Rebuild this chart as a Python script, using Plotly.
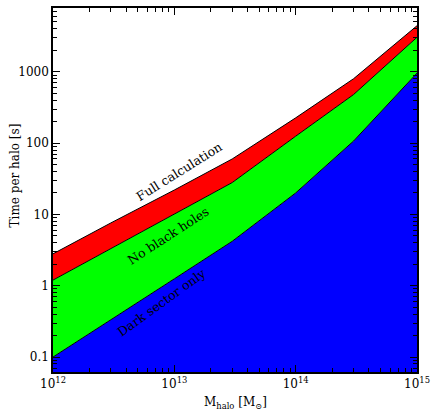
import plotly.graph_objects as go

# halo mass [Msun] and time per halo [s] for each run
m_halo = [1e12, 3e12, 1e13, 3e13, 1e14, 3e14, 1e15]
t_dark = [0.1, 0.33, 1.25, 4.2, 20, 107, 960]
t_nobh = [1.2, 3.3, 10, 28, 125, 480, 3050]
t_full = [2.8, 7.6, 22, 60, 226, 800, 4430]

x_ticks = [1e12, 1e13, 1e14, 1e15]
x_ticktext = ["10<sup>12</sup>", "10<sup>13</sup>", "10<sup>14</sup>", "10<sup>15</sup>"]
y_ticks = [0.1, 1, 10, 100, 1000]
y_ticktext = ["0.1", "1", "10", "100", "1000"]

# minor ticks: 2..9 in each decade
x_minor = [d * k for d in [1e12, 1e13, 1e14] for k in range(2, 10)]
y_minor = [d * k for d in [0.01, 0.1, 1, 10, 100, 1000] for k in range(2, 10)]

FONT = "DejaVu Serif"
line = {"color": "black", "width": 1}
title_font = {"family": FONT, "size": 12, "color": "black"}

fig = go.Figure()
fig.add_trace(go.Scatter(x=m_halo, y=t_dark, mode="lines", line=line,
                         fill="tozeroy", fillcolor="#0000ff", showlegend=False))
fig.add_trace(go.Scatter(x=m_halo, y=t_nobh, mode="lines", line=line,
                         fill="tonexty", fillcolor="#00ff00", showlegend=False))
fig.add_trace(go.Scatter(x=m_halo, y=t_full, mode="lines", line=line,
                         fill="tonexty", fillcolor="#ff0000", showlegend=False))

labels = [
    ("Full calculation", 13.04, 1.60, -32),
    ("No black holes", 12.95, 0.71, -33),
    ("Dark sector only", 12.895, -0.24, -36),
]
for text, lx, ly, ang in labels:
    fig.add_annotation(text=text, x=lx, y=ly, xref="x", yref="y", showarrow=False,
                       textangle=ang, font={"family": FONT, "size": 12.5, "color": "black"})

# axis titles as annotations so they can sit where the original has them
fig.add_annotation(text="M<sub>halo</sub> [M<sub>⊙</sub>]", x=0.5, y=0, xref="paper",
                   yref="paper", xanchor="center", yanchor="middle", yshift=-31,
                   showarrow=False, font=title_font)
fig.add_annotation(text="Time per halo [s]", x=0, y=0.54, xref="paper", yref="paper",
                   xanchor="center", yanchor="middle", xshift=-38, textangle=-90,
                   showarrow=False, font=title_font)

axis_common = dict(
    showline=True, linecolor="black", linewidth=1.5, mirror="ticks",
    ticks="inside", ticklen=7, tickwidth=1, tickcolor="black",
    showgrid=False, zeroline=False, automargin=False,
    tickfont={"family": FONT, "size": 12, "color": "black"},
)
fig.update_xaxes(type="log", range=[12, 15], tickvals=x_ticks, ticktext=x_ticktext,
                 minor=dict(ticks="inside", ticklen=4, tickcolor="black", tickvals=x_minor,
                            showgrid=False),
                 **axis_common)
fig.update_yaxes(type="log", range=[-1.21, 3.895], tickvals=y_ticks, ticktext=y_ticktext,
                 minor=dict(ticks="inside", ticklen=4, tickcolor="black", tickvals=y_minor,
                            showgrid=False),
                 **axis_common)
fig.update_layout(
    width=436, height=413,
    margin={"l": 53, "r": 19, "t": 8, "b": 41},
    plot_bgcolor="white", paper_bgcolor="white",
)
# drop the default page margin so the figure sits at the window's corner
fig.write_html("out.html", config={"displayModeBar": False},
               post_script="document.body.style.margin='0';")
